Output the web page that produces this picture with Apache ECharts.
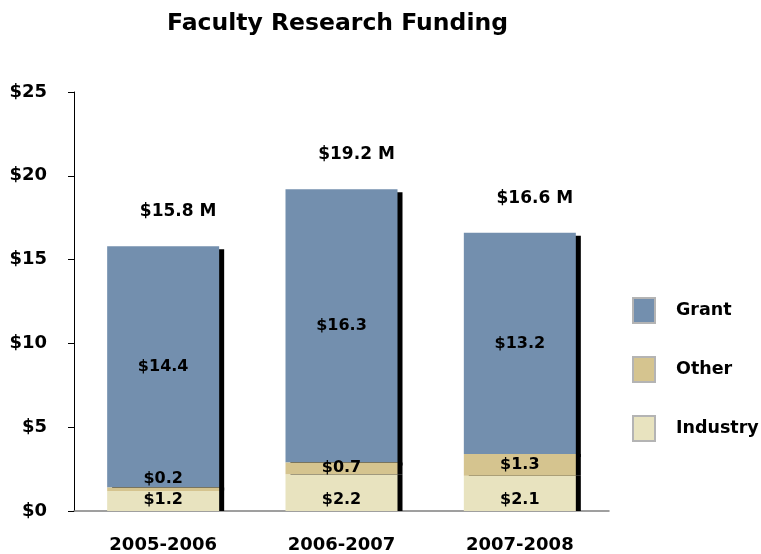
<!DOCTYPE html>
<html>
<head>
<meta charset="utf-8">
<script src="https://cdn.jsdelivr.net/npm/echarts@6/dist/echarts.min.js"></script>
<style>
  html, body { margin: 0; padding: 0; background: #fff; }
  #chart { width: 761px; height: 554px; }
</style>
</head>
<body>
<div id="chart"></div>
<script>
const years = ["2005-2006", "2006-2007", "2007-2008"];
const industry = [1.2, 2.2, 2.1];
const other = [0.2, 0.7, 1.3];
const grant = [14.4, 16.3, 13.2];
const totals = [15.8, 19.2, 16.6];

const font = "DejaVu Sans";
const money = p => "$" + p.value;

const myChart = echarts.init(document.getElementById("chart"));
myChart.setOption({
  animation: false,
  title: {
    text: "Faculty Research Funding",
    left: 162,
    top: 7,
    textStyle: { fontFamily: font, fontWeight: "bold", fontSize: 23.5, color: "#000" },
  },
  grid: { left: 74, right: 152, top: 92, bottom: 43 },
  legend: {
    orient: "vertical",
    left: 627,
    top: 292,
    itemWidth: 22,
    itemHeight: 25,
    itemGap: 32,
    icon: "rect",
    data: ["Grant", "Other", "Industry"],
    itemStyle: { borderColor: "#b4b4b4", borderWidth: 2, shadowColor: "transparent", shadowOffsetX: 0, shadowOffsetY: 0 },
    textStyle: { fontFamily: font, fontWeight: "bold", fontSize: 17.5, color: "#000", padding: [0, 0, 0, 16] },
  },
  xAxis: {
    type: "category",
    data: years,
    axisLine: { lineStyle: { color: "#808080", width: 1.5 } },
    axisTick: { length: 7, lineStyle: { color: "#808080" } },
    axisLabel: { margin: 25, fontFamily: font, fontWeight: "bold", fontSize: 18, color: "#000" },
  },
  yAxis: {
    type: "value",
    min: 0,
    max: 25,
    interval: 5,
    splitLine: { show: false },
    axisLine: { show: true, lineStyle: { color: "#000" } },
    axisTick: { show: true, length: 6, lineStyle: { color: "#000" } },
    axisLabel: { margin: 27, fontFamily: font, fontWeight: "bold", fontSize: 18, color: "#000", formatter: v => "$" + v },
  },
  series: [
    {
      name: "Industry",
      type: "bar",
      stack: "total",
      barWidth: 112,
      z: 3,
      data: industry,
      itemStyle: { color: "#e8e3bf", shadowColor: "#000", shadowOffsetX: 5, shadowOffsetY: 0, shadowBlur: 0 },
      label: { show: true, position: "insideBottom", distance: 3, formatter: money, fontFamily: font, fontWeight: "bold", fontSize: 16, color: "#000" },
    },
    {
      name: "Other",
      type: "bar",
      stack: "total",
      z: 3,
      data: other.map((v, i) => i === 0 ? { value: v, label: { position: "top", distance: 1 } } : v),
      itemStyle: { color: "#d5c48f", shadowColor: "#000", shadowOffsetX: 5, shadowOffsetY: 0, shadowBlur: 0 },
      label: { show: true, position: "inside", formatter: money, fontFamily: font, fontWeight: "bold", fontSize: 16, color: "#000" },
    },
    {
      name: "Grant",
      type: "bar",
      stack: "total",
      z: 2,
      data: grant,
      itemStyle: { color: "#738fae", shadowColor: "#000", shadowOffsetX: 5, shadowOffsetY: 3, shadowBlur: 0 },
      label: { show: true, position: "inside", formatter: money, fontFamily: font, fontWeight: "bold", fontSize: 16, color: "#000" },
    },
    {
      name: "Total",
      type: "bar",
      stack: "total",
      z: 4,
      data: totals.map(() => 0),
      itemStyle: { color: "transparent" },
      label: {
        show: true,
        position: "top",
        distance: 26,
        offset: [15, 0],
        formatter: p => "$" + totals[p.dataIndex] + " M",
        fontFamily: font, fontWeight: "bold", fontSize: 17, color: "#000",
      },
    },
  ],
});
</script>
</body>
</html>
